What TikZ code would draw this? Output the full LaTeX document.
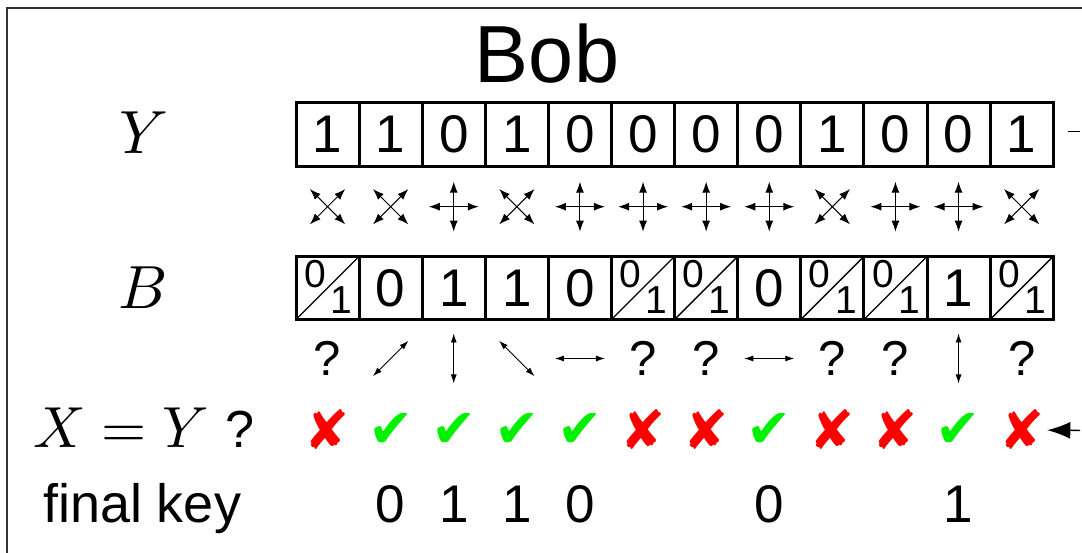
\documentclass[tikz,border=0pt]{standalone}
\usepackage[no-math]{fontspec}
\setmainfont{Liberation Sans}
\newfontfamily\dingfont{DejaVu Sans}
\usepackage{xcolor}
\usepackage{tikz}
\usetikzlibrary{arrows.meta}

\definecolor{keepgreen}{RGB}{0,240,0}
\definecolor{dropred}{RGB}{255,0,0}

\begin{document}
\begin{tikzpicture}[
x=1pt, y=1pt,
every node/.style={inner sep=0pt, outer sep=0pt},
bitbox/.style={
    draw,
    line width=3pt,
    minimum width=63.1pt,
    minimum height=63.1pt,
    font=\fontsize{53}{60}\selectfont
},
halfbit/.style={font=\fontsize{39}{44}\selectfont},
rowlabel/.style={scale=6.1, font=\normalsize},
ask/.style={font=\fontsize{49}{56}\selectfont},
keep/.style={text=keepgreen, font=\dingfont\fontsize{54}{60}\selectfont},
drop/.style={text=dropred, font=\dingfont\fontsize{54}{60}\selectfont},
keybit/.style={anchor=base, font=\fontsize{53}{60}\selectfont},
basarr/.style={{Latex[length=11pt,width=8pt]}-{Latex[length=11pt,width=8pt]}, line width=1pt},
measarr/.style={{Latex[length=9pt,width=6pt]}-{Latex[length=9pt,width=6pt]}, line width=0.9pt},
basis/.pic={
    \draw[basarr] (-25,0) -- (25,0);
    \draw[basarr] (0,-25) -- (0,25);
},
measline/.pic={\draw[measarr] (-25,0) -- (25,0);},
channel/.style={line width=1.3pt, dash pattern=on 12pt off 8pt}
]

% frame of Bob's panel
\useasboundingbox (0,0) rectangle (1082,553);
\clip (0,0) rectangle (1082,553);
\draw[line width=1.2pt, black!80] (1100,545) -- (7,545) -- (7,-10);

\node[font=\fontsize{81}{90}\selectfont, anchor=base] (bob) at (547,470) {Bob};

\node[rowlabel] (ylab) at (144,420.5) {$Y$};
\node[rowlabel] (blab) at (143,265.5) {$B$};
\node[rowlabel, scale=0.95, anchor=base west] (xylab) at (33,105) {$X=Y$ {\fontsize{9}{11}\selectfont ?}};
\node[font=\fontsize{54}{60}\selectfont, anchor=base west] (keylab) at (43,30) {final key};

% raw bits and bases
\foreach \b [count=\i] in {1,1,0,1,0,0,0,0,1,0,0,1}
    \node[bitbox] (y\i) at (264.45+63.1*\i,418.5) {\b};
\foreach \a [count=\i] in {45,45,0,45,0,0,0,0,45,0,0,45}
    \pic[rotate=\a] at (264.45+63.1*\i,346.3) {basis};

% Bob's bits
\foreach \b [count=\i] in {{},0,1,1,0,{},{},0,{},{},1,{}}
    \node[bitbox] (b\i) at (264.45+63.1*\i,265) {\b};
\foreach \i in {1,6,7,9,10,12} {
    \draw[line width=1.3pt] (b\i.south west) -- (b\i.north east);
    \node[halfbit] (bz\i) at ([shift={(19,-18)}]b\i.north west) {0};
    \node[halfbit] (bo\i) at ([shift={(-18,19)}]b\i.south east) {1};
}

% measured directions
\foreach \i in {1,6,7,9,10,12}
    \node[ask] (q\i) at (264.45+63.1*\i,194.5) {?};
\foreach \i/\a in {2/45,3/90,4/-45,5/0,8/0,11/90}
    \pic[rotate=\a] at (264.45+63.1*\i,194.5) {measline};

% sifting
\foreach \i in {2,3,4,5,8,11}
    \node[keep] (c\i) at (264.45+63.1*\i,123) {✔};
\foreach \i in {1,6,7,9,10,12}
    \node[drop] (c\i) at (264.45+63.1*\i,123) {✘};
\foreach \i/\k in {2/0,3/1,4/1,5/0,8/0,11/1}
    \node[keybit] (k\i) at (264.45+63.1*\i,30) {\k};

% to and from Alice
\coordinate (ysent) at (1068,421.3);
\coordinate (toalice) at (1120,421.3);
\coordinate (fromalice) at (1120,122.3);
\draw[channel] (ysent) -- (toalice);
\draw[channel, -{Latex[length=23pt,width=17pt]}, shorten >=3pt] (fromalice) -- (c12);

\end{tikzpicture}
\end{document}
